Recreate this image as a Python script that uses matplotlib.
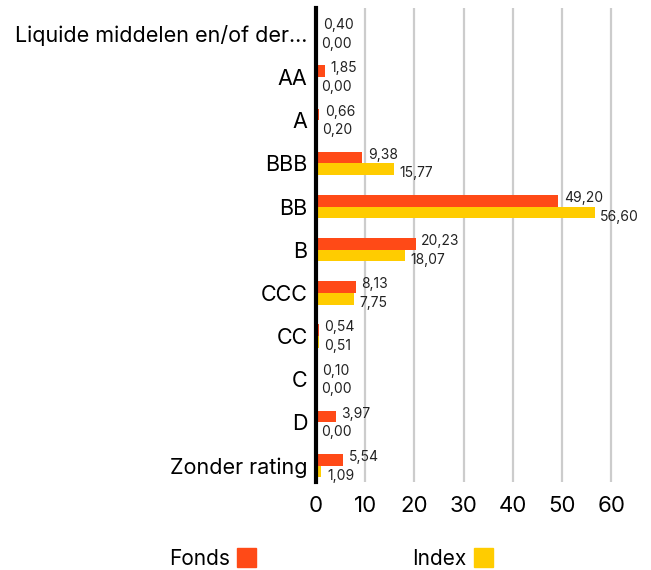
import matplotlib
matplotlib.use("Agg")
import matplotlib.pyplot as plt
import matplotlib.patches as mpatches
import numpy as np

categories = ["Liquide middelen en/of der...", "AA", "A", "BBB", "BB", "B", "CCC", "CC", "C", "D", "Zonder rating"]
fonds = [0.40, 1.85, 0.66, 9.38, 49.20, 20.23, 8.13, 0.54, 0.10, 3.97, 5.54]
index = [0.00, 0.00, 0.20, 15.77, 56.60, 18.07, 7.75, 0.51, 0.00, 0.00, 1.09]
xticks = [0, 10, 20, 30, 40, 50, 60]
series_names = ["Fonds", "Index"]

c_fonds = "#FF4A17"
c_index = "#FFCC00"

plt.rcParams['font.family'] = ['Inter', 'DejaVu Sans']

W, H = 651, 570
fig = plt.figure(figsize=(W/100, H/100), dpi=100)
ax = fig.add_axes([316/W, (H-482)/H, (631-316)/W, (482-8)/H])

y = np.arange(len(categories))
bh = 0.27
ax.barh(y - bh/2, fonds, height=bh, color=c_fonds, zorder=3)
ax.barh(y + bh/2, index, height=bh, color=c_index, zorder=3)

def fmt(v):
    return f"{v:.2f}".replace(".", ",")

for i in range(len(categories)):
    ax.annotate(fmt(fonds[i]), (fonds[i], y[i] - bh/2), xytext=(4, 2), textcoords="offset points",
                va="center", ha="left", fontsize=10, color="#222222", zorder=4)
    ax.annotate(fmt(index[i]), (index[i], y[i] + bh/2), xytext=(4, -3), textcoords="offset points",
                va="center", ha="left", fontsize=10, color="#222222", zorder=4)

ax.set_xlim(0, 64)
ax.set_ylim(10.38, -0.6)
ax.set_yticks(y)
ax.set_yticklabels(categories, fontsize=15.5)
ax.set_xticks(xticks)
ax.set_xticklabels([str(t) for t in xticks], fontsize=16)
ax.tick_params(length=0, pad=6)
ax.tick_params(axis='x', pad=10)
for t in xticks[1:]:
    ax.axvline(t, color="#cccccc", lw=1.6, zorder=1)
for s in ["top", "right", "bottom"]:
    ax.spines[s].set_visible(False)
ax.spines["left"].set_linewidth(3)
ax.spines["left"].set_color("black")
ax.spines["left"].set_zorder(5)

# legend
ly = (H - 559) / H
fig.text(230/W, ly, series_names[0], ha="right", va="center", fontsize=15)
fig.patches.append(mpatches.Rectangle((237/W, (H-567)/H), 19/W, 19/H, transform=fig.transFigure,
                                      color=c_fonds, figure=fig))
fig.text(466/W, ly, series_names[1], ha="right", va="center", fontsize=15)
fig.patches.append(mpatches.Rectangle((474/W, (H-567)/H), 19/W, 19/H, transform=fig.transFigure,
                                      color=c_index, figure=fig))

fig.savefig("out.png", dpi=100)
